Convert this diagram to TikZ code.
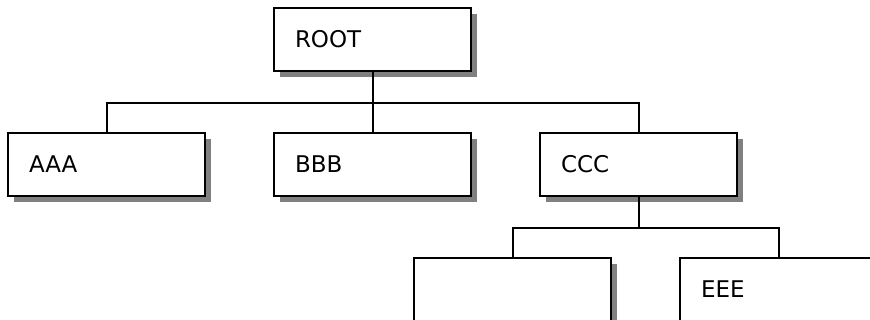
\documentclass[tikz,border=0pt]{standalone}
\usepackage{fontspec}
\setmainfont{DejaVu Sans}
\usepackage{tikz}
\usetikzlibrary{shadows}

\tikzset{
  orgbox/.style={draw, line width=2.2pt, fill=white, minimum height=63pt,
    text width=155pt, inner xsep=21pt, align=left,
    font=\fontsize{23}{27}\selectfont,
    general shadow={fill=gray, shadow xshift=6pt, shadow yshift=-6pt}},
  link/.style={line width=2pt}
}

\begin{document}
\begin{tikzpicture}[x=1pt, y=1pt]
\useasboundingbox (0,0) rectangle (870,-320);

\node[orgbox] (root) at (372.5, -39.5) {ROOT};
\node[orgbox] (aaa) at (106.5, -164.5) {AAA};
\node[orgbox] (bbb) at (372.5, -164.5) {BBB};
\node[orgbox] (ccc) at (638.5, -164.5) {CCC};
\node[orgbox] (ddd) at (512.5, -289.5) {};
\node[orgbox] (eee) at (778.5, -289.5) {EEE};

\draw[link] (root.south) -- ++(0, -31) coordinate (rootbus);
\draw[link] (rootbus) -| (aaa.north);
\draw[link] (rootbus) -- (bbb.north);
\draw[link] (rootbus) -| (ccc.north);

\draw[link] (ccc.south) -- ++(0, -31) coordinate (cccbus);
\draw[link] (cccbus) -| (ddd.north);
\draw[link] (cccbus) -| (eee.north);
\end{tikzpicture}
\end{document}
